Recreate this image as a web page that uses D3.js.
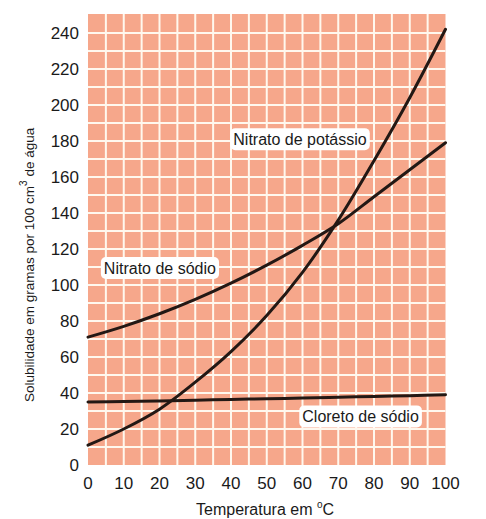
<!DOCTYPE html>
<html>
<head>
<meta charset="utf-8">
<script src="https://cdn.jsdelivr.net/npm/d3@7"></script>
<style>
  body { margin: 0; background: #fff; }
  text { font-family: "Liberation Sans", Arial, sans-serif; fill: #1a1a1a; }
</style>
</head>
<body>
<div id="chart"></div>
<script>
// dados
const temperaturas = [0, 10, 20, 30, 40, 50, 60, 70, 80, 90, 100];
const nitratoPotassio = [11, 20, 31, 46, 63, 83, 107, 136, 169, 204, 242];
const nitratoSodio = [71, 77, 84, 92, 101, 111, 122, 134, 149, 164, 179];
const cloretoSodio = [35, 35.3, 35.6, 36, 36.4, 36.8, 37.2, 37.6, 38.1, 38.5, 39];
const xTicks = [0, 10, 20, 30, 40, 50, 60, 70, 80, 90, 100];
const yTicks = [0, 20, 40, 60, 80, 100, 120, 140, 160, 180, 200, 220, 240];

const width = 486;
const height = 519;
const margin = { left: 88, right: 40, top: 14, bottom: 54 };

const svg = d3.select("#chart")
    .append("svg")
    .attr("width", width)
    .attr("height", height);

const x = d3.scaleLinear().domain([0, 100]).range([margin.left, width - margin.right - 0.5]);
const y = d3.scaleLinear().domain([0, 250.5]).range([height - margin.bottom, margin.top]);

// fundo
svg.append("rect")
    .attr("x", x(0))
    .attr("y", y(250.5))
    .attr("width", x(100) - x(0))
    .attr("height", y(0) - y(250.5))
    .attr("fill", "#f6a78b");

// grade (a cada 5 °C e 10 g)
const gx = d3.range(5, 100, 5);
const gy = d3.range(10, 250, 10);
svg.append("g").selectAll("line")
    .data(gx)
    .enter()
    .append("line")
    .attr("x1", d => x(d))
    .attr("x2", d => x(d))
    .attr("y1", y(250.5))
    .attr("y2", y(0))
    .attr("stroke", "#fff8ee")
    .attr("stroke-width", 2);
svg.append("g").selectAll("line")
    .data(gy)
    .enter()
    .append("line")
    .attr("x1", x(0))
    .attr("x2", x(100))
    .attr("y1", d => y(d))
    .attr("y2", d => y(d))
    .attr("stroke", "#fff8ee")
    .attr("stroke-width", 2);

// curvas
const line = d3.line()
    .x((d, i) => x(temperaturas[i]))
    .y(d => y(d))
    .curve(d3.curveCatmullRom.alpha(0.5));

[cloretoSodio, nitratoSodio, nitratoPotassio].forEach(serie => {
    svg.append("path")
        .datum(serie)
        .attr("d", line)
        .attr("fill", "none")
        .attr("stroke", "#231814")
        .attr("stroke-width", 3)
        .attr("stroke-linecap", "round");
});

// rótulos das curvas (canto esquerdo, centro vertical)
const rotulos = [
    { texto: "Nitrato de potássio", t: 39.8, v: 181 },
    { texto: "Nitrato de sódio", t: 3.6, v: 109.4 },
    { texto: "Cloreto de sódio", t: 59.1, v: 27 }
];
rotulos.forEach(r => {
    const g = svg.append("g");
    const txt = g.append("text")
        .attr("x", x(r.t) + 3)
        .attr("y", y(r.v))
        .attr("dy", "0.35em")
        .style("font-size", "16px")
        .text(r.texto);
    const bb = txt.node().getBBox();
    g.insert("rect", "text")
        .attr("x", bb.x - 3)
        .attr("y", y(r.v) - 11)
        .attr("width", bb.width + 6)
        .attr("height", 22)
        .attr("rx", 5)
        .attr("fill", "#fff");
});

// marcas dos eixos
svg.append("g").selectAll("text")
    .data(yTicks)
    .enter()
    .append("text")
    .attr("x", 79)
    .attr("y", d => y(d))
    .attr("dy", "0.36em")
    .attr("text-anchor", "end")
    .style("font-size", "17px")
    .text(d => d);

svg.append("g").selectAll("text")
    .data(xTicks)
    .enter()
    .append("text")
    .attr("x", d => x(d))
    .attr("y", 489)
    .attr("text-anchor", "middle")
    .style("font-size", "17px")
    .text(d => d);

// títulos dos eixos
const tx = svg.append("text")
    .attr("x", 196)
    .attr("y", 515)
    .style("font-size", "16px");
tx.append("tspan").text("Temperatura em ");
tx.append("tspan").attr("dy", -7).style("font-size", "10px").text("o");
tx.append("tspan").attr("dy", 7).text("C");

const ty = svg.append("text")
    .attr("transform", "translate(34, 402) rotate(-90)")
    .style("font-size", "13.5px");
ty.append("tspan").text("Solubilidade em gramas por 100 cm");
ty.append("tspan").attr("dy", -7).style("font-size", "10px").text("3");
ty.append("tspan").attr("dy", 7).text(" de água");
</script>
</body>
</html>
